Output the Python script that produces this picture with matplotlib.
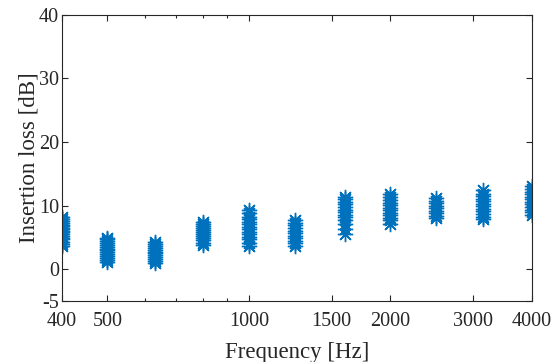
import numpy as np
from matplotlib import pyplot as plt

# one-third octave band centre frequencies [Hz]
bands = [400, 500, 630, 800, 1000, 1250, 1600, 2000, 2500, 3150, 4000]

# insertion loss samples per band [dB]
il_400 = [3.6, 4.0, 4.3, 4.7, 5.0, 5.2, 5.5, 5.8, 6.0, 6.3, 6.5, 6.8, 7.0, 7.3, 7.6, 7.9, 8.2]
il_500 = [1.2, 1.5, 1.8, 2.1, 2.4, 2.7, 3.0, 3.2, 3.5, 3.8, 4.1, 4.4, 4.7, 5.0]
il_630 = [1.0, 1.3, 1.6, 1.9, 2.2, 2.5, 2.8, 3.1, 3.4, 3.7, 4.0, 4.3]
il_800 = [3.8, 4.2, 4.6, 5.0, 5.3, 5.6, 5.9, 6.2, 6.5, 6.8, 7.1, 7.4]
il_1000 = [3.6, 4.2, 4.7, 5.1, 5.5, 5.9, 6.3, 6.7, 7.1, 7.5, 7.9, 8.3, 8.8, 9.4]
il_1250 = [3.7, 4.1, 4.5, 4.9, 5.3, 5.7, 6.1, 6.5, 6.9, 7.3, 7.7]
il_1600 = [5.6, 6.4, 7.2, 7.8, 8.2, 8.6, 9.0, 9.4, 9.8, 10.2, 10.6, 11.0, 11.4]
il_2000 = [7.2, 7.7, 8.1, 8.5, 8.9, 9.3, 9.7, 10.1, 10.5, 10.9, 11.3, 11.8]
il_2500 = [8.0, 8.4, 8.8, 9.2, 9.6, 10.0, 10.4, 10.8, 11.2]
il_3150 = [7.9, 8.3, 8.7, 9.1, 9.5, 9.9, 10.3, 10.7, 11.1, 11.5, 11.9, 12.4]
il_4000 = [8.6, 9.0, 9.4, 9.8, 10.2, 10.6, 11.0, 11.4, 11.8, 12.2, 12.6, 13.1]

samples = [il_400, il_500, il_630, il_800, il_1000, il_1250,
           il_1600, il_2000, il_2500, il_3150, il_4000]

xtick_vals = [400, 500, 1000, 1500, 2000, 3000, 4000]
xminor_vals = [600, 700, 800, 900]
ytick_vals = [-5, 0, 10, 20, 30, 40]

plt.rcParams['font.family'] = ['Liberation Serif', 'DejaVu Serif']
plt.rcParams['axes.unicode_minus'] = False

fig = plt.figure(figsize=(5.53, 3.62), dpi=100)
ax = fig.add_axes([0.112, 0.168, 0.850, 0.791])

# MATLAB-style '*' marker: 8-spoke asterisk
for f, vals in zip(bands, samples):
    ax.plot([f] * len(vals), vals, linestyle='none', marker=(8, 2, 0),
            color='#0072BD', markersize=11, markeredgewidth=1.0)

ax.set_xscale('log')
ax.set_xlim(400, 4000)
ax.set_ylim(-5, 40)
ax.set_xticks(xtick_vals)
ax.set_xticklabels([str(v) for v in xtick_vals])
ax.set_xticks(xminor_vals, minor=True)
ax.set_xticklabels([], minor=True)
ax.set_yticks(ytick_vals)

ax.tick_params(which='both', direction='in', top=True, right=True,
               colors='#262626', labelsize=14.5, length=4, width=0.8)
ax.tick_params(axis='x', pad=8)
ax.tick_params(axis='y', pad=2)
ax.tick_params(which='minor', length=2.5)
for s in ax.spines.values():
    s.set_color('#262626')
    s.set_linewidth(0.8)

ax.set_xlabel('Frequency [Hz]', fontsize=16.5, color='#262626', labelpad=8)
ax.set_ylabel('Insertion loss [dB]', fontsize=16.5, color='#262626', labelpad=0)

fig.savefig('out.png', dpi=100)
